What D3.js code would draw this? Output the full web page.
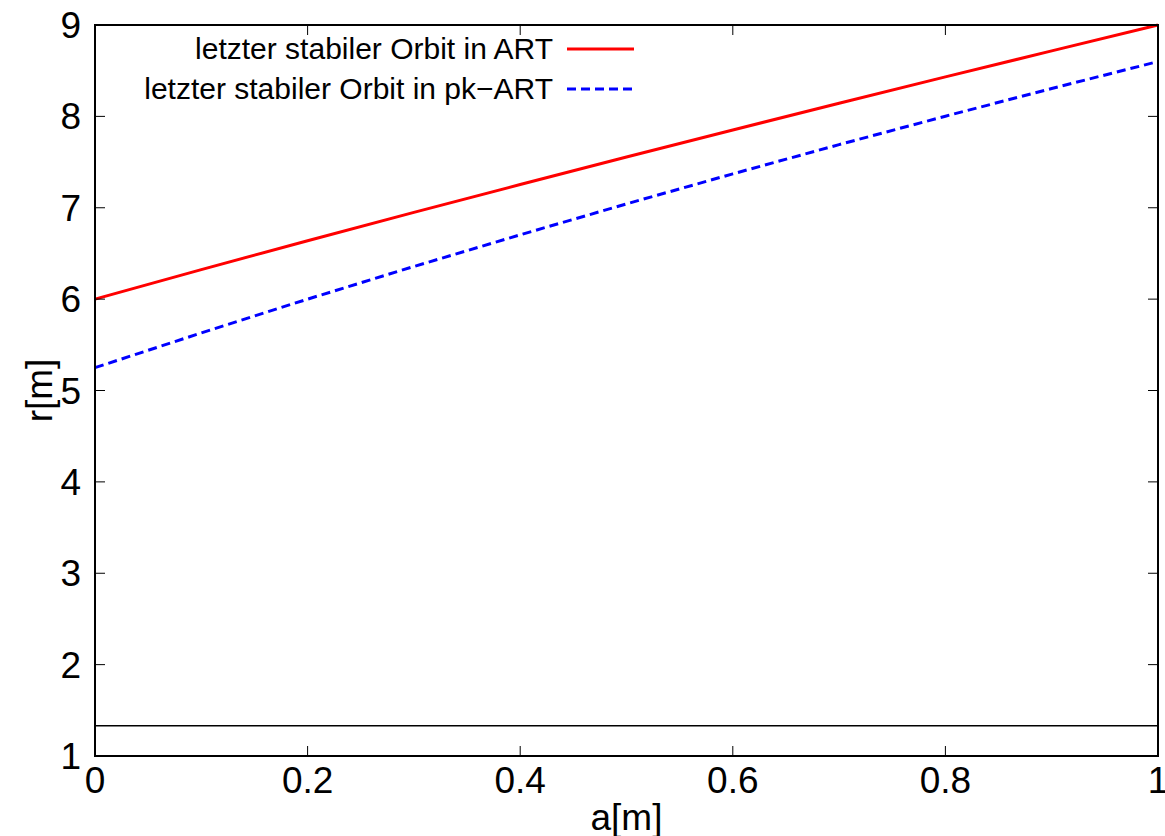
<!DOCTYPE html>
<html><head><meta charset="utf-8">
<script src="https://cdn.jsdelivr.net/npm/d3@7"></script>
<style>body{margin:0;background:#fff}svg{display:block}text{font-family:"Liberation Sans",Arial,sans-serif}</style>
</head><body>
<svg id="c" width="1165" height="836"></svg>
<script>
const spinA = [0,0.1,0.2,0.3,0.4,0.5,0.6,0.7,0.8,0.9,1.0];
const rART = [6.0,6.323,6.639,6.949,7.254,7.555,7.851,8.143,8.432,8.717,9.0];
const rPK = [5.25,5.63,6.0,6.357,6.704,7.042,7.371,7.691,8.002,8.305,8.6];
const horizonLine = 1.33;
const xTicks = [0,0.2,0.4,0.6,0.8,1];
const yTicks = [1,2,3,4,5,6,7,8,9];
const seriesNames = ["letzter stabiler Orbit in ART","letzter stabiler Orbit in pk\u2212ART"];

const svg = d3.select("#c");
const L=95,R=1158,T=25,B=756;
const x=d3.scaleLinear().domain([0,1]).range([L,R]);
const y=d3.scaleLinear().domain([1,9]).range([B,T]);

svg.append("line").attr("x1",x(0)).attr("x2",x(1)).attr("y1",y(horizonLine)).attr("y2",y(horizonLine))
  .attr("stroke","#000").attr("stroke-width",1.5);

const line=d3.line().x(d=>x(d[0])).y(d=>y(d[1]));
svg.append("path").datum(spinA.map((a,i)=>[a,rART[i]])).attr("d",line)
  .attr("fill","none").attr("stroke","#ff0000").attr("stroke-width",3);
svg.append("path").datum(spinA.map((a,i)=>[a,rPK[i]])).attr("d",line)
  .attr("fill","none").attr("stroke","#0000ff").attr("stroke-width",3).attr("stroke-dasharray","9,5");

const tl=10, fs=37;
xTicks.forEach(t=>{
  svg.append("line").attr("x1",x(t)).attr("x2",x(t)).attr("y1",B).attr("y2",B-tl).attr("stroke","#000").attr("stroke-width",1);
  svg.append("line").attr("x1",x(t)).attr("x2",x(t)).attr("y1",T).attr("y2",T+tl).attr("stroke","#000").attr("stroke-width",1);
  svg.append("text").attr("x",x(t)).attr("y",B+37).attr("text-anchor","middle").attr("font-size",fs).text(d3.format("")(t));
});
yTicks.forEach(t=>{
  svg.append("line").attr("x1",L).attr("x2",L+tl).attr("y1",y(t)).attr("y2",y(t)).attr("stroke","#000").attr("stroke-width",1);
  svg.append("line").attr("x1",R).attr("x2",R-tl).attr("y1",y(t)).attr("y2",y(t)).attr("stroke","#000").attr("stroke-width",1);
  svg.append("text").attr("x",81).attr("y",y(t)+13).attr("text-anchor","end").attr("font-size",fs).text(t);
});

svg.append("rect").attr("x",L).attr("y",T).attr("width",R-L).attr("height",B-T)
  .attr("fill","none").attr("stroke","#000").attr("stroke-width",2);

svg.append("text").attr("x",(L+R)/2).attr("y",830).attr("text-anchor","middle").attr("font-size",fs).text("a[m]");
svg.append("text").attr("transform","translate(52,"+((T+B)/2)+") rotate(-90)").attr("text-anchor","middle").attr("font-size",fs).text("r[m]");

const legY=[49,89];
const cols=["#ff0000","#0000ff"];
seriesNames.forEach((n,i)=>{
  svg.append("text").attr("x",553).attr("y",legY[i]+10).attr("text-anchor","end").attr("font-size",30).text(n);
  const ln=svg.append("line").attr("x1",567).attr("x2",634).attr("y1",legY[i]).attr("y2",legY[i])
    .attr("stroke",cols[i]).attr("stroke-width",3);
  if(i===1) ln.attr("stroke-dasharray","9,5");
});
</script>
</body></html>
